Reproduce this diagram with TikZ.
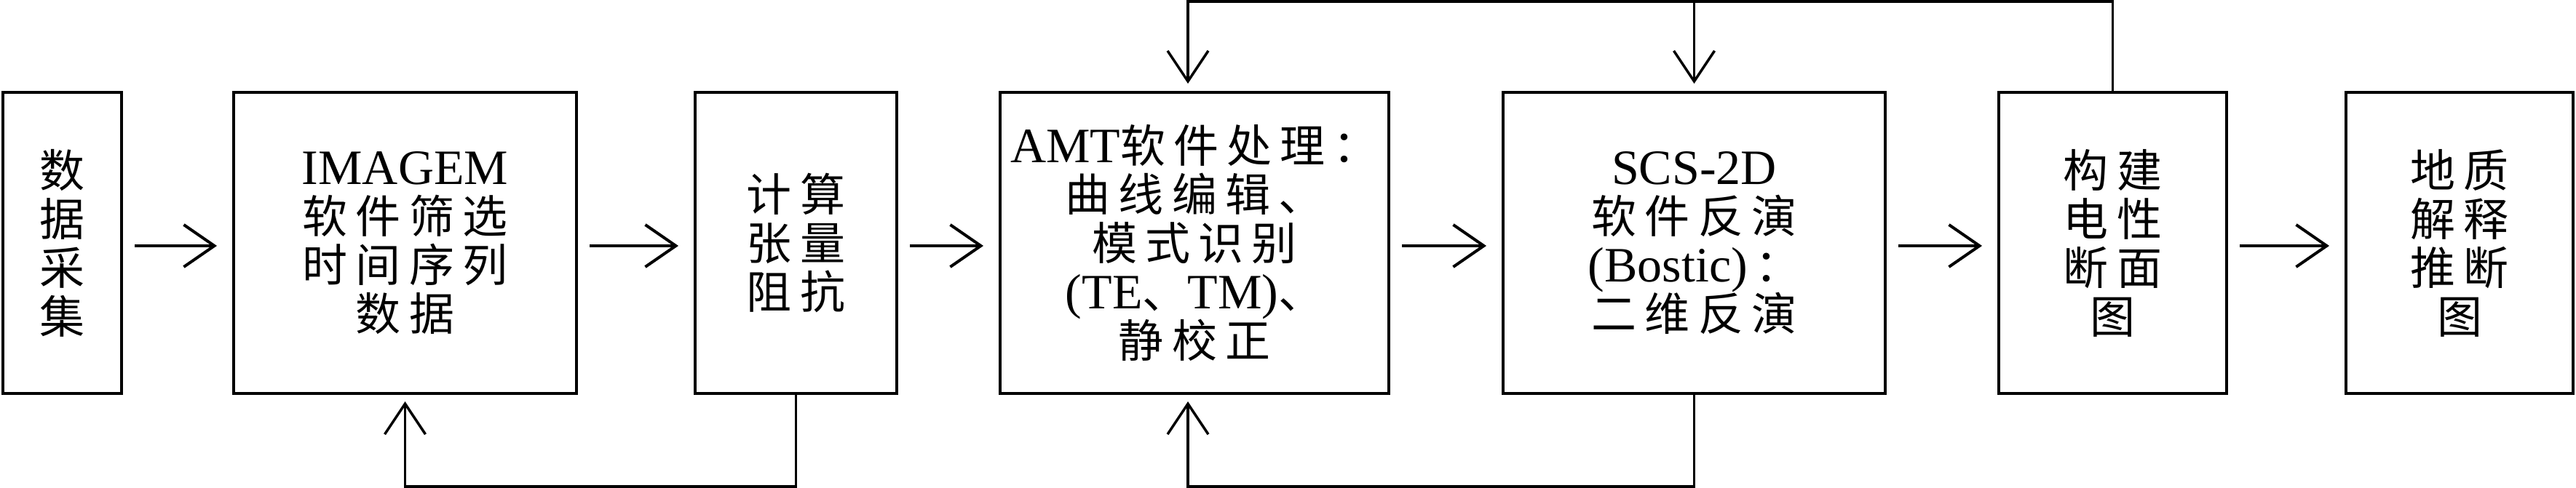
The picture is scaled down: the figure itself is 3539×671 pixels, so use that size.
\documentclass[tikz,border=0pt]{standalone}
\usepackage{fontspec}
\setmainfont{Liberation Serif}
\newfontfamily\cjk[LetterSpace=18]{Noto Sans CJK SC}
\usetikzlibrary{arrows.meta}
\newcommand\latn[1]{{\rmfamily\fontsize{68}{67}\selectfont #1}}
\begin{document}
\begin{tikzpicture}[x=1pt,y=-1pt,
  box/.style={draw,line width=4pt,minimum height=414pt,inner sep=0pt,align=center,
    font=\cjk\fontsize{62}{67}\selectfont},
  arr/.style={line width=4pt,-{Straight Barb[length=42pt,width=58pt]}},
  fb/.style={line width=3.5pt,-{Straight Barb[length=42pt,width=56pt]}}]
\useasboundingbox (0,0) rectangle (3539,671);
\node[box,minimum width=163pt] (b1) at (85.5,334) {数\\据\\采\\集};
\node[box,minimum width=471pt] (b2) at (556.5,334) {\latn{IMAGEM}\\软件筛选\\时间序列\\数据};
\node[box,minimum width=277pt] (b3) at (1093.5,334) {计算\\张量\\阻抗};
\node[box,minimum width=534pt] (b4) at (1641,334) {\latn{AMT}软件处理：\\曲线编辑、\\模式识别\\\latn{(TE}、\latn{TM)}、\\静校正};
\node[box,minimum width=525pt] (b5) at (2327.5,334) {\latn{SCS-2D}\\软件反演\\\latn{(Bostic)}\,：\\二维反演};
\node[box,minimum width=313pt] (b6) at (2902.5,334) {构建\\电性\\断面\\图};
\node[box,minimum width=312pt] (b7) at (3379,334) {地质\\解释\\推断\\图};
\foreach \a/\b in {b1/b2,b2/b3,b3/b4,b4/b5,b5/b6,b6/b7}
  \draw[arr] ([xshift=16pt,yshift=-4pt]\a.east) -- ([xshift=-21pt,yshift=-4pt]\b.west);
\draw[fb] (b3.south) -- ++(0,126) -| ([yshift=-9pt]b2.south);
\draw[fb] (b5.south) -- ++(0,126) -| ([xshift=-9pt,yshift=-9pt]b4.south);
\draw[fb] (b6.north) -- ++(0,-123) -| ([xshift=-9pt,yshift=10pt]b4.north);
\draw[fb] ([yshift=123pt]b5.north) -- ([yshift=10pt]b5.north);
\end{tikzpicture}
\end{document}
